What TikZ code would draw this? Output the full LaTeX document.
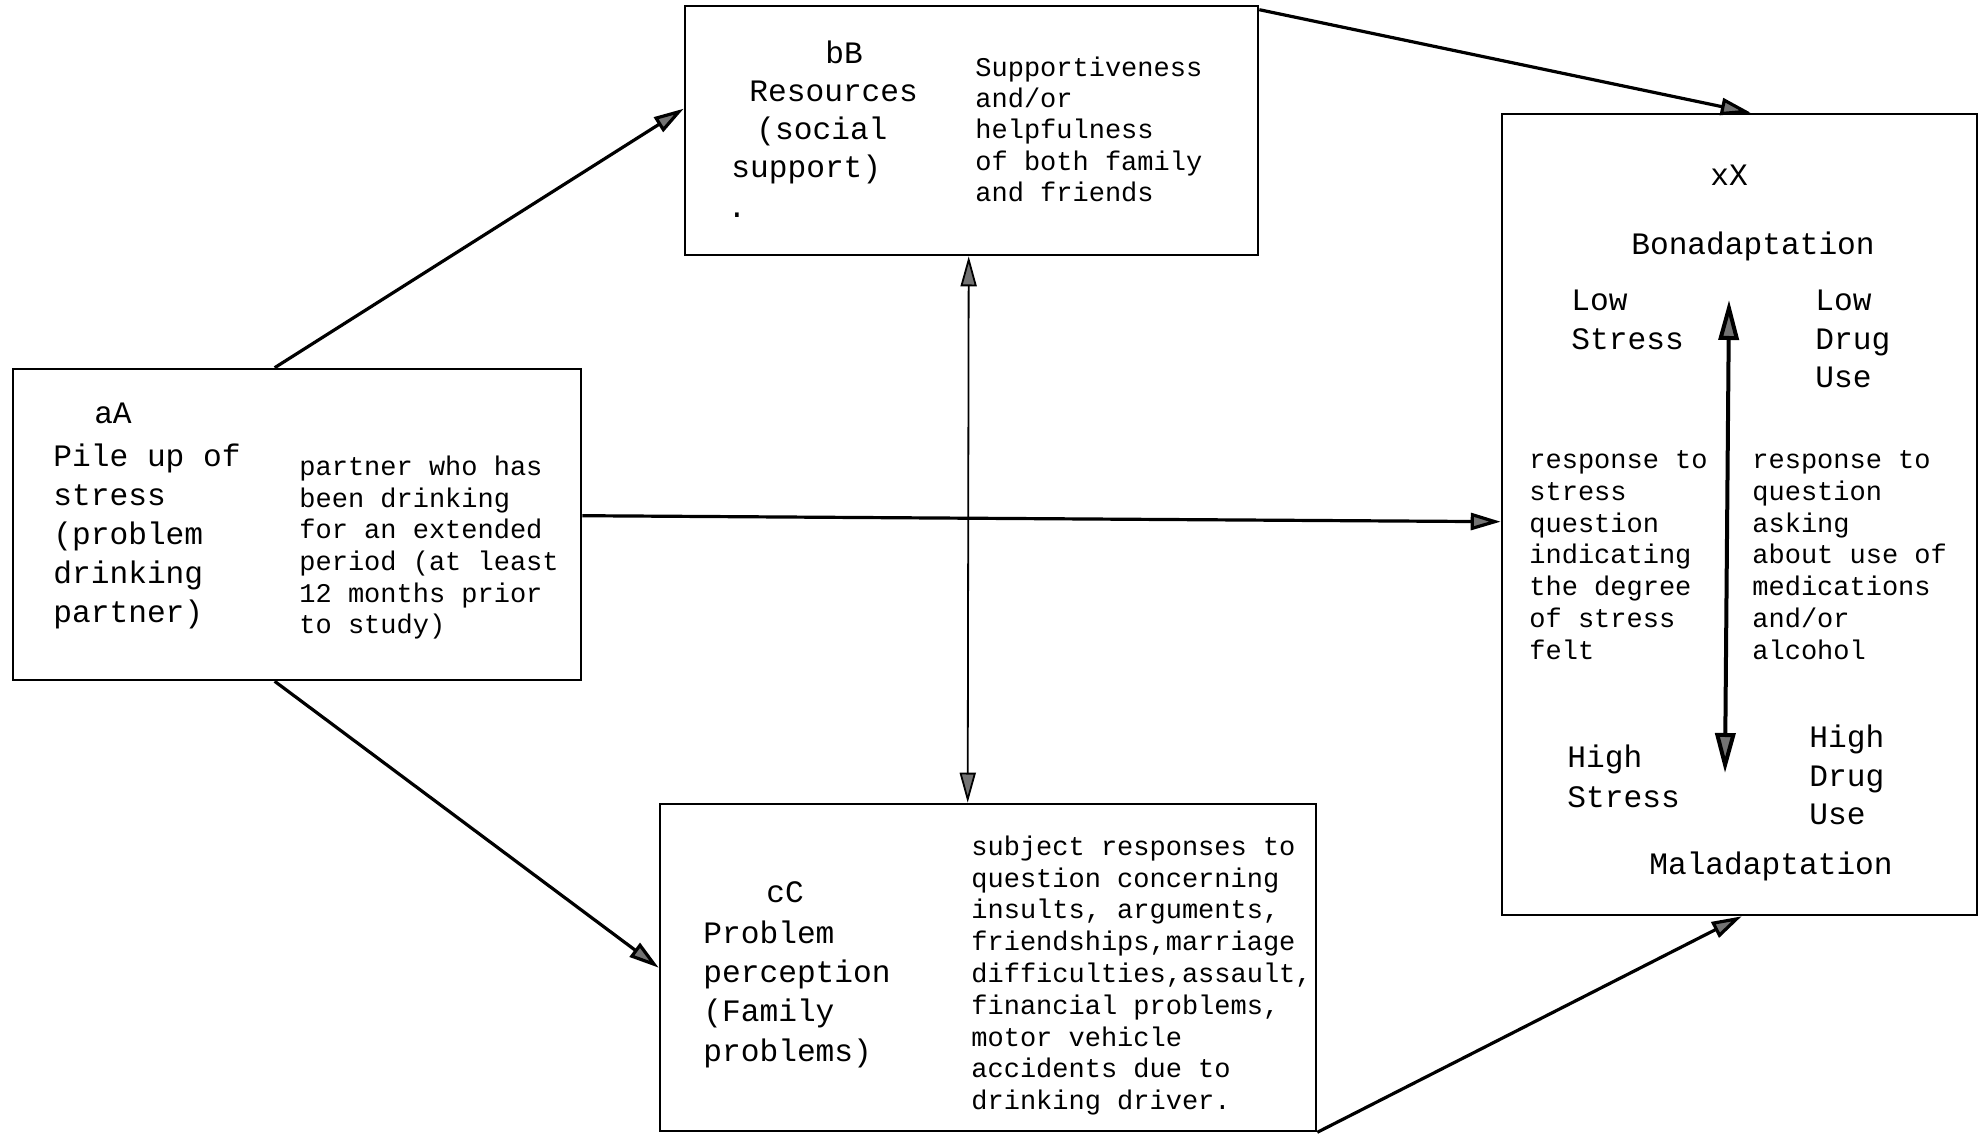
\documentclass[tikz,border=0pt]{standalone}
\usepackage{fontspec}
\setmonofont{Liberation Mono}
\usetikzlibrary{arrows.meta,calc}
\begin{document}
\begin{tikzpicture}[x=0.5pt,y=-0.5pt,
  box/.style={draw, line width=1.3pt, inner sep=0pt, rectangle},
  big/.style={font=\ttfamily\fontsize{15.6}{19.5}\selectfont, inner sep=0pt},
  small/.style={font=\ttfamily\fontsize{13.5}{16}\selectfont, inner sep=0pt},
  tipa/.style={-{Triangle[length=15pt,width=8.5pt,fill=black!55]}},
  conn/.style={line width=1.6pt, tipa},
  dconn/.style={line width=0.9pt, {Triangle[length=15pt,width=8pt,fill=black!55]}-{Triangle[length=15pt,width=8pt,fill=black!55]}},
  bigarrow/.style={line width=2pt, {Triangle[length=20pt,width=10pt,fill=black!55]}-{Triangle[length=20pt,width=10pt,fill=black!55]}},
]
\useasboundingbox (0,0) rectangle (1986,1138);
\fill[white] (0,0) rectangle (1986,1138);

% boxes
\node[box, minimum width=284pt, minimum height=155.5pt] (A) at (297,524.5) {};
\node[box, minimum width=286.5pt, minimum height=124.5pt] (B) at (971.5,130.5) {};
\node[box, minimum width=328pt, minimum height=163.5pt] (C) at (988,967.5) {};
\node[box, minimum width=237.5pt, minimum height=400.5pt] (X) at (1739.5,514.5) {};

% connectors
\draw[conn] ($(A.north west)+(263,0)$) -- ($(B.north west)+(0,104)$);
\draw[conn] ($(A.south west)+(263,0)$) -- ($(C.north west)+(0,165)$);
\draw[conn] ($(A.north east)+(0,148)$) -- ($(X.north west)+(0,409)$);
\draw[conn] ($(B.north east)+(0,5)$) -- ($(X.north west)+(250,0)$);
\draw[conn] (C.south east) -- ($(X.south west)+(241,0)$);
\draw[dconn] ($(B.south west)+(285,0)$) -- ($(C.north west)+(309,0)$);

\begin{scope}[shift={(0,6)}]
% box A text
\node[big, anchor=mid] (aA) at (113,413) {aA};
\foreach \t [count=\i from 0] in {{Pile up of},{stress},{(problem},{drinking},{partner)}}
  \node[big, anchor=mid west] (al\i) at (53,456+\i*39) {\t};
\foreach \t [count=\i from 0] in {{partner who has},{been drinking},{for an extended},{period (at least},{12 months prior},{to study)}}
  \node[small, anchor=mid west] (ar\i) at (299,465+\i*31.7) {\t};

% box B text
\node[big, anchor=mid] (bB) at (844,53) {bB};
\node[big, anchor=mid west] (bl1) at (749,91) {Resources};
\node[big, anchor=mid west] (bl2) at (756,129) {(social};
\node[big, anchor=mid west] (bl3) at (731,167) {support)};
\node[big, anchor=base] (bdot) at (737,212) {.};
\foreach \t [count=\i from 0] in {{Supportiveness},{and/or},{helpfulness},{of both family},{and friends}}
  \node[small, anchor=mid west] (br\i) at (975,66+\i*31.3) {\t};

% box C text
\node[big, anchor=mid] (cC) at (785,892) {cC};
\foreach \t [count=\i from 0] in {{Problem},{perception},{(Family},{problems)}}
  \node[big, anchor=mid west] (cl\i) at (703,933+\i*39.3) {\t};
\foreach \t [count=\i from 0] in {{subject responses to},{question concerning},{insults, arguments,},{friendships,marriage},{difficulties,assault,},{financial problems,},{motor vehicle},{accidents due to},{drinking driver.}}
  \node[small, anchor=mid west] (cr\i) at (971,845+\i*31.8) {\t};

% box X text
\node[big, anchor=mid] (xX) at (1729,175) {xX};
\node[big, anchor=mid] (bona) at (1753,244) {Bonadaptation};
\node[big, anchor=mid west] (ls1) at (1571,300) {Low};
\node[big, anchor=mid west] (ls2) at (1571,339) {Stress};
\node[big, anchor=mid west] (ld1) at (1815,300) {Low};
\node[big, anchor=mid west] (ld2) at (1815,339) {Drug};
\node[big, anchor=mid west] (ld3) at (1815,377) {Use};
\foreach \t [count=\i from 0] in {{response to},{stress},{question},{indicating},{the degree},{of stress},{felt}}
  \node[small, anchor=mid west] (xl\i) at (1529,458.5+\i*31.7) {\t};
\foreach \t [count=\i from 0] in {{response to},{question},{asking},{about use of},{medications},{and/or},{alcohol}}
  \node[small, anchor=mid west] (xr\i) at (1752,458.5+\i*31.7) {\t};
\node[big, anchor=mid west] (hs1) at (1567,757) {High};
\node[big, anchor=mid west] (hs2) at (1567,797) {Stress};
\node[big, anchor=mid west] (hd1) at (1809,737) {High};
\node[big, anchor=mid west] (hd2) at (1809,776) {Drug};
\node[big, anchor=mid west] (hd3) at (1809,814) {Use};
\node[big, anchor=mid] (mala) at (1771,864) {Maladaptation};
\end{scope}

\coordinate (xt) at (1729,300);
\coordinate (xb) at (1725,773);
\draw[bigarrow] (xt) -- (xb);
\end{tikzpicture}
\end{document}
